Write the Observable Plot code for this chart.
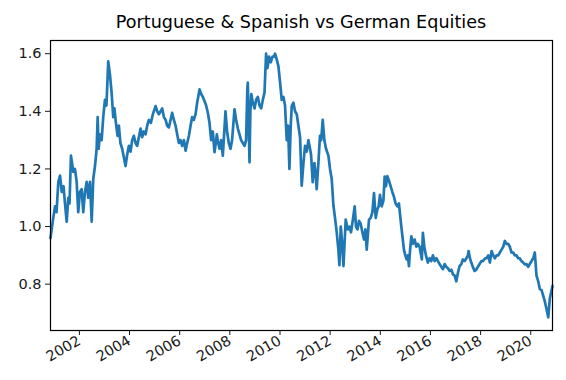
<!DOCTYPE html>
<html>
<head>
<meta charset="utf-8">
<script src="https://cdn.jsdelivr.net/npm/d3@7"></script>
<script src="https://cdn.jsdelivr.net/npm/@observablehq/plot@0.6"></script>
<style>
  html, body { margin: 0; padding: 0; background: #fff; }
  #wrap { position: relative; width: 566px; height: 380px; overflow: hidden; }
  #title { position: absolute; left: 50px; width: 502px; top: 14px; text-align: center;
           font-family: "DejaVu Sans", sans-serif; font-size: 17.6px; line-height: 1; color: #000; white-space: nowrap; }
  #chart { position: absolute; left: 0; top: 0; }
</style>
</head>
<body>
<div id="wrap">
  <div id="chart"></div>
  <div id="title">Portuguese &amp; Spanish vs German Equities</div>
</div>
<script>
const title = "Portuguese & Spanish vs German Equities";
const yTicks = [0.8, 1.0, 1.2, 1.4, 1.6];
const xTickYears = [2002, 2004, 2006, 2008, 2010, 2012, 2014, 2016, 2018, 2020];

const dates = [
  "2000-11-06","2000-12-16",
  "2001-01-11","2001-02-02","2001-02-28","2001-03-25","2001-04-18","2001-05-15","2001-06-05","2001-06-30","2001-07-23","2001-08-10","2001-08-31","2001-10-04","2001-10-28","2001-11-22","2001-12-15",
  "2002-01-09","2002-02-03","2002-02-26","2002-03-23","2002-04-17","2002-05-10","2002-06-04","2002-06-29","2002-07-22","2002-08-16","2002-09-09","2002-09-24","2002-10-08","2002-10-27","2002-11-21","2002-12-14",
  "2003-01-08","2003-01-30","2003-02-25","2003-03-21","2003-04-15","2003-05-09","2003-05-26","2003-06-17","2003-07-11","2003-07-30","2003-08-21","2003-09-16","2003-10-11","2003-11-04","2003-11-28","2003-12-23",
  "2004-01-16","2004-02-09","2004-03-04","2004-03-29","2004-04-21","2004-05-16","2004-06-10","2004-07-03","2004-07-28","2004-08-22","2004-09-14","2004-10-09","2004-11-07","2004-12-06",
  "2005-01-15","2005-02-07","2005-03-04","2005-03-29","2005-04-21","2005-05-16","2005-06-10","2005-07-02","2005-07-27","2005-08-21","2005-09-13","2005-10-08","2005-11-02","2005-11-25","2005-12-20",
  "2006-01-13","2006-02-06","2006-03-03","2006-03-28","2006-04-20","2006-05-15","2006-06-08","2006-07-01","2006-07-26","2006-08-20","2006-09-12","2006-10-17","2006-11-09","2006-12-04","2006-12-29",
  "2007-01-21","2007-02-15","2007-03-11","2007-04-04","2007-04-28","2007-05-23","2007-06-16","2007-06-26","2007-07-15","2007-08-04","2007-08-27","2007-09-21","2007-10-30","2007-11-22","2007-12-17",
  "2008-01-11","2008-02-03","2008-03-09","2008-04-02","2008-04-27","2008-05-21","2008-06-13","2008-07-08","2008-08-02","2008-08-25","2008-09-12","2008-09-19","2008-10-14","2008-10-26","2008-11-09","2008-12-01","2008-12-26",
  "2009-01-18","2009-02-12","2009-03-08","2009-04-01","2009-04-26","2009-05-20","2009-06-12","2009-07-02","2009-07-26","2009-08-19","2009-09-13","2009-10-06","2009-10-21","2009-11-14","2009-12-09",
  "2010-01-02","2010-01-26","2010-02-20","2010-03-15","2010-04-09","2010-04-28","2010-05-18","2010-06-06","2010-06-21","2010-07-15","2010-08-08","2010-09-02","2010-09-26","2010-10-20","2010-11-13","2010-12-08",
  "2011-01-01","2011-01-25","2011-02-19","2011-03-14","2011-03-29","2011-04-22","2011-05-17","2011-06-05","2011-06-19","2011-07-14","2011-08-06","2011-08-24","2011-09-15","2011-10-09","2011-11-02","2011-12-07","2011-12-30",
  "2012-01-24","2012-02-18","2012-03-12","2012-04-06","2012-04-30","2012-05-15","2012-06-04","2012-06-18","2012-07-13","2012-08-15","2012-09-13","2012-10-08","2012-10-31","2012-11-25","2012-12-24",
  "2013-01-12","2013-02-02","2013-02-25","2013-03-21","2013-04-15","2013-05-09","2013-05-29","2013-06-17","2013-07-20","2013-08-14","2013-09-08","2013-10-01","2013-10-26","2013-11-19","2013-12-08","2013-12-27",
  "2014-01-21","2014-02-15","2014-03-05","2014-03-24","2014-04-13","2014-05-06","2014-05-31","2014-06-25","2014-07-18","2014-08-12","2014-09-06","2014-09-29","2014-11-03","2014-11-22","2014-12-11","2014-12-31",
  "2015-01-19","2015-02-07","2015-02-22","2015-03-11","2015-03-29","2015-04-21","2015-05-16","2015-06-10","2015-07-02","2015-07-27","2015-08-18","2015-08-29","2015-09-13","2015-10-04","2015-10-27","2015-11-25","2015-12-20",
  "2016-01-13","2016-02-06","2016-03-03","2016-03-28","2016-04-20","2016-05-15","2016-06-08","2016-07-01","2016-07-26","2016-08-20","2016-09-12","2016-10-07","2016-10-31","2016-11-24","2016-12-19",
  "2017-01-12","2017-02-05","2017-03-01","2017-03-26","2017-04-18","2017-05-13","2017-06-07","2017-06-30","2017-07-10","2017-07-29","2017-08-18","2017-09-10","2017-10-05","2017-10-29","2017-11-22","2017-12-17",
  "2018-01-11","2018-02-03","2018-03-09","2018-03-28","2018-04-22","2018-05-16","2018-06-10","2018-07-04","2018-07-27","2018-08-21","2018-09-15","2018-10-08","2018-11-02","2018-11-27","2018-12-20",
  "2019-01-13","2019-02-07","2019-03-02","2019-03-27","2019-04-21","2019-05-14","2019-06-08","2019-07-02","2019-07-25","2019-08-19","2019-09-13","2019-10-06","2019-10-31","2019-11-24","2019-12-18",
  "2020-01-12","2020-02-06","2020-02-29","2020-03-25","2020-04-19","2020-05-12","2020-06-06","2020-06-30","2020-07-24","2020-08-18","2020-09-12","2020-10-05","2020-11-13"
];

const values = [
  0.96,1.03,
  1.07,1.05,1.155,1.177,1.12,1.14,1.08,1.017,1.10,1.08,1.246,1.19,1.20,1.155,1.05,
  1.12,1.13,1.05,1.12,1.155,1.10,1.155,1.017,1.166,1.21,1.27,1.38,1.27,1.32,1.30,1.38,
  1.44,1.42,1.573,1.53,1.465,1.38,1.41,1.36,1.315,1.35,1.29,1.27,1.24,1.21,1.25,1.28,
  1.26,1.30,1.315,1.29,1.28,1.31,1.34,1.31,1.33,1.32,1.35,1.37,1.36,1.39,
  1.418,1.40,1.39,1.40,1.41,1.38,1.37,1.35,1.344,1.37,1.395,1.37,1.35,1.32,1.29,
  1.30,1.28,1.30,1.263,1.29,1.315,1.35,1.38,1.37,1.39,1.43,1.476,1.46,1.45,1.435,
  1.42,1.395,1.36,1.30,1.33,1.258,1.30,1.32,1.29,1.27,1.30,1.246,1.40,1.33,1.29,
  1.27,1.30,1.407,1.37,1.34,1.32,1.30,1.29,1.28,1.30,1.48,1.50,1.223,1.40,1.46,1.43,1.41,
  1.44,1.45,1.42,1.41,1.44,1.465,1.60,1.55,1.59,1.57,1.59,1.59,1.60,1.58,1.556,
  1.50,1.44,1.45,1.42,1.30,1.35,1.20,1.35,1.418,1.43,1.40,1.39,1.35,1.31,1.142,1.22,
  1.28,1.26,1.30,1.27,1.25,1.154,1.22,1.18,1.13,1.22,1.315,1.30,1.37,1.30,1.27,1.246,1.20,
  1.166,1.073,1.03,0.98,0.92,0.866,1.0,0.96,0.863,1.024,0.99,1.00,0.98,1.02,1.07,
  1.00,0.99,1.02,1.01,0.98,0.955,0.99,0.92,1.024,1.03,1.05,1.116,1.03,1.06,1.07,1.11,
  1.07,1.09,1.173,1.14,1.175,1.16,1.14,1.12,1.104,1.08,1.07,1.08,1.0,0.96,0.92,0.90,
  0.886,0.90,0.863,0.92,0.966,0.94,0.955,0.93,0.94,0.93,0.90,0.886,0.978,0.93,0.90,0.875,0.89,
  0.88,0.90,0.88,0.89,0.88,0.869,0.86,0.852,0.87,0.86,0.855,0.846,0.85,0.834,0.83,
  0.81,0.84,0.863,0.87,0.886,0.88,0.89,0.90,0.915,0.89,0.875,0.86,0.846,0.85,0.86,0.87,
  0.88,0.88,0.89,0.89,0.90,0.875,0.915,0.90,0.89,0.90,0.90,0.91,0.92,0.93,0.95,
  0.94,0.94,0.93,0.91,0.91,0.90,0.90,0.89,0.89,0.88,0.875,0.869,0.87,0.86,0.87,
  0.88,0.89,0.91,0.83,0.81,0.783,0.78,0.76,0.74,0.714,0.685,0.75,0.794
];

if (dates.length !== values.length) throw new Error("length mismatch " + dates.length + " vs " + values.length);

const data = dates.map((d, i) => ({date: new Date(d + "T00:00:00Z"), value: values[i]}));
const yMin = d3.min(values), yMax = d3.max(values);
const pad = (yMax - yMin) * 0.05;

const chart = Plot.plot({
  width: 566,
  height: 380,
  marginLeft: 50,
  marginRight: 14,
  marginTop: 40,
  marginBottom: 50,
  style: {fontFamily: "DejaVu Sans, sans-serif", fontSize: "14.5px", color: "#1a1a1a", background: "#fff"},
  x: {type: "utc", domain: d3.extent(data, d => d.date)},
  y: {domain: [yMin - pad, yMax + pad]},
  marks: [
    Plot.lineY(data, {x: "date", y: "value", stroke: "#1f77b4", strokeWidth: 2.7, strokeLinejoin: "round"}),
    Plot.frame({stroke: "#000", strokeWidth: 1.2}),
    Plot.axisY({ticks: yTicks, tickFormat: d3.format(".1f"), tickSize: 5, tickPadding: 4, label: null}),
    Plot.axisX({ticks: xTickYears.map(y => new Date(Date.UTC(y, 0, 1))), tickFormat: d3.utcFormat("%Y"),
                tickSize: 5, tickPadding: 4, tickRotate: -30, label: null})
  ]
});
document.getElementById("chart").appendChild(chart);
</script>
</body>
</html>
